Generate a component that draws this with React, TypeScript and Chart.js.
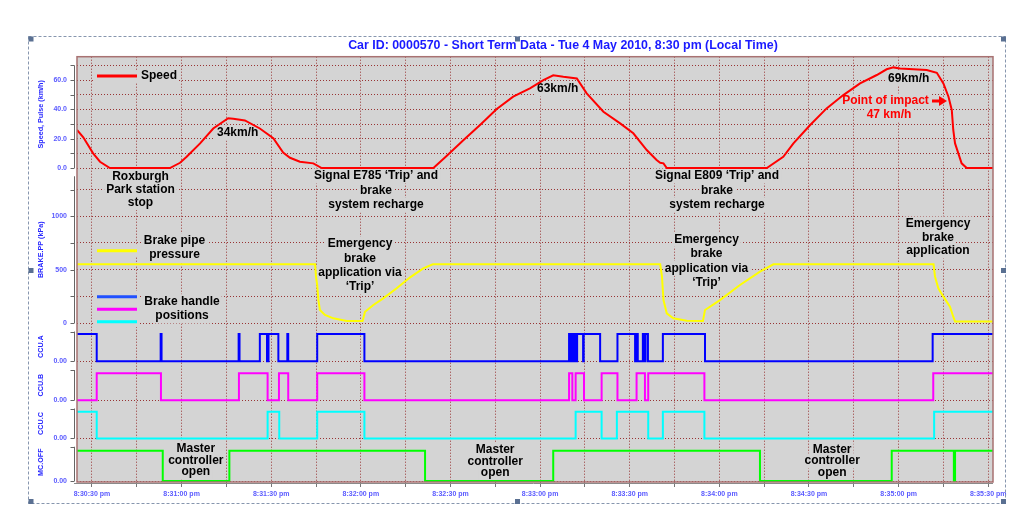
import React, { useEffect, useRef } from 'react';
import { Chart, registerables } from 'chart.js';

Chart.register(...registerables);

const FONT = '"Liberation Sans", Arial, Helvetica, sans-serif';

const chartTitle = 'Car ID: 0000570 - Short Term Data - Tue 4 May 2010, 8:30 pm (Local Time)';

// time axis: seconds after 8:30:00 pm
const timeMin = 25;
const timeMax = 331.6;
const xTickValues = [30, 45, 60, 75, 90, 105, 120, 135, 150, 165, 180, 195, 210, 225, 240, 255, 270, 285, 300, 315, 330];

// Speed (km/h)
const speedTimes = [25, 27.1, 30.4, 32.7, 36.0, 56.1, 59.5, 61.7, 66.2, 70.6, 75.6, 77.3, 81.2, 86.2, 90.7, 94.0, 96.3, 99.6, 104.1, 106.9, 144.3, 148.7, 154.3, 159.9, 165.5, 171.0, 176.6, 181.1, 184.4, 187.8, 192.3, 195.6, 201.2, 206.8, 211.2, 215.7, 219.0, 220.2, 221.3, 222.4, 255.9, 261.4, 264.8, 270.4, 275.9, 281.5, 287.1, 292.7, 296.0, 298.3, 300.5, 309.4, 312.8, 315.0, 316.7, 317.8, 318.3, 318.9, 320.0, 321.1, 322.8, 331.6];
const speedValues = [26, 21, 10, 4.3, 0, 0, 3.6, 7.7, 16.8, 27, 34, 33.7, 32.5, 27, 20.3, 10.5, 7, 4.3, 3.2, 0, 0, 8.2, 19, 29.4, 40.3, 48.7, 54.4, 60, 63.3, 62.3, 61.2, 51, 38.4, 30.5, 23.7, 12.3, 5.5, 3.6, 3.2, 0, 0, 7.7, 16.8, 29.4, 40.7, 49.8, 57.8, 63.5, 67.4, 68.7, 68, 66.9, 65, 57.8, 48.7, 39.6, 26, 16.8, 10, 3.2, 0, 0];

// Brake pipe pressure (kPa)
const brakeTimes = [25, 104.7, 105.0, 105.4, 105.8, 106.3, 108.0, 110.8, 115.3, 120.6, 121.4, 124.2, 127.5, 132.0, 136.5, 140.9, 144.1, 220.2, 220.8, 221.3, 222.4, 224.6, 229.1, 234.5, 235.2, 240.2, 246.9, 253.6, 258.1, 311.7, 312.2, 313.3, 315.0, 317.2, 318.3, 318.9, 331.6];
const brakeValues = [550, 550, 434, 356, 215, 122, 75, 44, 19, 18, 106, 169, 231, 325, 428, 512, 550, 550, 434, 215, 91, 44, 22, 18, 122, 215, 356, 481, 550, 550, 434, 325, 247, 153, 59, 14, 14];

// Brake handle positions (step signals: value holds from each time until the next)
const ccuATimes = [25, 31.6, 53.0, 53.3, 79.1, 79.4, 86.2, 88.6, 89.1, 92.4, 95.4, 95.7, 105.4, 121.2, 189.7, 190.2, 190.7, 191.0, 191.4, 191.6, 191.9, 192.1, 192.4, 194.4, 194.6, 200.1, 205.9, 211.8, 212.3, 212.7, 214.4, 214.7, 215.3, 216.1, 221.1, 235.2, 311.4, 331.6];
const ccuAValues = [1, 0, 1, 0, 1, 0, 1, 0, 1, 0, 1, 0, 1, 0, 1, 0, 1, 0, 1, 0, 1, 0, 1, 0, 1, 0, 1, 0, 1, 0, 1, 0, 1, 0, 1, 0, 1, 1];
const ccuBTimes = [25, 31.6, 53.1, 79.2, 88.8, 92.6, 95.7, 105.4, 121.2, 189.7, 190.8, 191.9, 194.7, 200.6, 205.9, 212.3, 215.1, 216.2, 235.0, 311.6, 331.6];
const ccuBValues = [0, 1, 0, 1, 0, 1, 0, 1, 0, 1, 0, 1, 0, 1, 0, 1, 0, 1, 0, 1, 1];
const ccuCTimes = [25, 31.6, 88.8, 92.7, 105.4, 121.2, 191.9, 200.6, 205.7, 216.2, 221.1, 235.0, 311.9, 331.6];
const ccuCValues = [1, 0, 1, 0, 1, 0, 1, 0, 1, 0, 1, 0, 1, 1];
// Master controller off
const mcTimes = [25, 53.7, 76.0, 141.5, 184.4, 253.6, 297.7, 318.5, 318.9, 331.6];
const mcValues = [1, 0, 1, 0, 1, 0, 1, 0, 1, 1];

const speedAxisTicks = [0, 10, 20, 30, 40, 50, 60, 70];
const speedAxisLabels = ['0.0', '', '20.0', '', '40.0', '', '60.0', ''];
const brakeAxisTicks = [0, 250, 500, 750, 1000, 1250];
const brakeAxisLabels = ['0', '', '500', '', '1000', ''];
const stepAxisTicks = [0];
const stepAxisLabels = ['0.00'];

const PLOT_BG = '#D4D4D4';
const GRID = '#983434';
const TICK_COL = '#5a5aff';
const AXIS_TITLE_COL = '#2828ff';

const panels = [
  { id: 'ySpeed', title: 'Speed, Pulse (km/h)', min: -2.7, max: 76, weight: 115.3, order: 6, ticks: speedAxisTicks, labels: speedAxisLabels, segTop: 70, segTicks: speedAxisTicks },
  { id: 'yBrake', title: 'BRAKE.PP (kPa)', min: -42, max: 1415, weight: 155.5, order: 5, ticks: brakeAxisTicks, labels: brakeAxisLabels, segTop: 1375, segTicks: brakeAxisTicks },
  { id: 'yA', title: 'CCU.A', min: -0.161, max: 1.238, weight: 38.2, order: 4, ticks: stepAxisTicks, labels: stepAxisLabels, segTop: 1.09, segTicks: [0, 1.09] },
  { id: 'yB', title: 'CCU.B', min: -0.156, max: 1.28, weight: 38.8, order: 3, ticks: stepAxisTicks, labels: stepAxisLabels, segTop: 1.12, segTicks: [0, 1.12] },
  { id: 'yC', title: 'CCU.C', min: -0.15, max: 1.27, weight: 38, order: 2, ticks: stepAxisTicks, labels: stepAxisLabels, segTop: 1.12, segTicks: [0, 1.12] },
  { id: 'yMC', title: 'MC.OFF', min: -0.03, max: 1.27, weight: 39.5, order: 1, ticks: stepAxisTicks, labels: stepAxisLabels, segTop: 1.13, segTicks: [0, 1.13] },
];

const annotations = [
  { lines: ['Roxburgh', 'Park station', 'stop'], x: 140.5, ys: [176.7, 190, 202.5], color: '#000' },
  { lines: ['34km/h'], x: 237.7, ys: [133], color: '#000' },
  { lines: ['Signal E785 \u2018Trip\u2019 and', 'brake', 'system recharge'], x: 376, ys: [176, 190.5, 205], color: '#000' },
  { lines: ['63km/h'], x: 557.7, ys: [89], color: '#000' },
  { lines: ['Signal E809 \u2018Trip\u2019 and', 'brake', 'system recharge'], x: 717, ys: [176, 190.5, 205], color: '#000' },
  { lines: ['69km/h'], x: 908.7, ys: [78.3], color: '#000' },
  { lines: ['Point of impact'], x: 885.5, ys: [101], color: '#FF0000' },
  { lines: ['47 km/h'], x: 889, ys: [114.3], color: '#FF0000' },
  { lines: ['Emergency', 'brake', 'application via', '\u2018Trip\u2019'], x: 360, ys: [244, 258.3, 272.6, 287], color: '#000' },
  { lines: ['Emergency', 'brake', 'application via', '\u2018Trip\u2019'], x: 706.5, ys: [239.3, 253.8, 268.3, 282.7], color: '#000' },
  { lines: ['Emergency', 'brake', 'application'], x: 938, ys: [224, 237.5, 251], color: '#000' },
  { lines: ['Master', 'controller', 'open'], x: 195.8, ys: [448.5, 460.2, 471.9], color: '#000' },
  { lines: ['Master', 'controller', 'open'], x: 495.2, ys: [450, 461.7, 473], color: '#000' },
  { lines: ['Master', 'controller', 'open'], x: 832.2, ys: [449.3, 461, 472.7], color: '#000' },
];

const legendItems = [
  { color: '#FF0000', y: 76 },
  { color: '#FFFF00', y: 250.7 },
  { color: '#2050FF', y: 296.7 },
  { color: '#FF00FF', y: 309.3 },
  { color: '#00FFFF', y: 321.7 },
];
const legendTexts = [
  { lines: ['Speed'], x: 141, ys: [76], align: 'left' },
  { lines: ['Brake pipe', 'pressure'], x: 174.5, ys: [240.7, 255], align: 'center' },
  { lines: ['Brake handle', 'positions'], x: 182, ys: [301.7, 316], align: 'center' },
];

function fmtTime(v: number): string {
  const m = 30 + Math.floor(v / 60);
  const s = Math.round(v % 60);
  return `8:${String(m).padStart(2, '0')}:${String(s).padStart(2, '0')} pm`;
}

function drawBoxText(ctx: CanvasRenderingContext2D, text: string, x: number, y: number, color: string, align: string) {
  ctx.font = `bold 12px ${FONT}`;
  const w = ctx.measureText(text).width;
  const left = align === 'center' ? x - w / 2 : x;
  ctx.fillStyle = PLOT_BG;
  ctx.fillRect(left - 2, y - 7.5, w + 4, 15);
  ctx.fillStyle = color;
  ctx.textAlign = align as CanvasTextAlign;
  ctx.textBaseline = 'middle';
  ctx.fillText(text, x, y);
}

const customPlugin = {
  id: 'customDecor',
  beforeDraw(chart: any) {
    const { ctx, chartArea: a } = chart;
    ctx.save();
    ctx.fillStyle = '#FFFFFF';
    ctx.fillRect(0, 0, chart.width, chart.height);
    ctx.fillStyle = PLOT_BG;
    ctx.fillRect(a.left, a.top, a.right - a.left, a.bottom - a.top);
    ctx.restore();
  },
  beforeDatasetsDraw(chart: any) {
    const { ctx } = chart;
    ctx.save();
    annotations.forEach((an) => an.lines.forEach((t, i) => drawBoxText(ctx, t, an.x, an.ys[i], an.color, 'center')));
    legendTexts.forEach((lt) => lt.lines.forEach((t, i) => drawBoxText(ctx, t, lt.x, lt.ys[i], '#000', lt.align)));
    ctx.fillStyle = PLOT_BG;
    ctx.fillRect(95, 70, 44, 12);
    ctx.fillRect(95, 245, 44, 12);
    ctx.fillRect(95, 291, 44, 36);
    legendItems.forEach((li) => {
      ctx.strokeStyle = li.color;
      ctx.lineWidth = 3;
      ctx.beginPath();
      ctx.moveTo(97, li.y);
      ctx.lineTo(137, li.y);
      ctx.stroke();
    });
    // arrow for point of impact
    ctx.fillStyle = '#FF0000';
    ctx.fillRect(932, 99.5, 8, 3);
    ctx.beginPath();
    ctx.moveTo(939, 96);
    ctx.lineTo(947, 101);
    ctx.lineTo(939, 106);
    ctx.closePath();
    ctx.fill();
    ctx.restore();
  },
  afterDraw(chart: any) {
    const { ctx, chartArea: a } = chart;
    ctx.save();
    // plot border
    ctx.strokeStyle = '#A87272';
    ctx.lineWidth = 1.5;
    ctx.strokeRect(a.left, a.top, a.right - a.left, a.bottom - a.top);
    ctx.strokeStyle = '#8a8a8a';
    ctx.lineWidth = 1;
    ctx.beginPath();
    ctx.moveTo(a.left - 3, a.bottom + 1.5);
    ctx.lineTo(a.right, a.bottom + 1.5);
    ctx.stroke();
    // y-axis segments
    ctx.strokeStyle = '#666';
    ctx.lineWidth = 1;
    const ax = Math.round(a.left - 3) + 0.5;
    panels.forEach((p) => {
      const sc = chart.scales[p.id];
      const yTop = sc.getPixelForValue(p.segTop);
      const y0 = sc.getPixelForValue(0);
      ctx.beginPath();
      ctx.moveTo(ax, yTop);
      ctx.lineTo(ax, y0);
      p.segTicks.forEach((v: number) => {
        const yy = Math.round(sc.getPixelForValue(v)) + 0.5;
        ctx.moveTo(ax - 4, yy);
        ctx.lineTo(ax, yy);
      });
      ctx.stroke();
    });
    // title
    ctx.fillStyle = '#1a1aff';
    ctx.font = `bold 12.4px ${FONT}`;
    ctx.textAlign = 'center';
    ctx.textBaseline = 'middle';
    ctx.fillText(chartTitle, 563, 46);
    // selection frame
    ctx.strokeStyle = '#8796AE';
    ctx.setLineDash([3, 2]);
    ctx.strokeRect(28.5, 36.5, 977, 467);
    ctx.setLineDash([]);
    ctx.fillStyle = '#5A7092';
    const hx = [28.5, 515, 1001];
    const hy = [36.5, 268, 499];
    hx.forEach((x) => hy.forEach((y) => {
      if (x === 515 && y === 268) return;
      ctx.fillRect(x, y, 5, 5);
    }));
    ctx.restore();
  },
};

function seriesData(times: number[], values: number[]) {
  return times.map((t, i) => ({ x: t, y: values[i] }));
}

export default function App() {
  const ref = useRef<HTMLCanvasElement | null>(null);
  useEffect(() => {
    if (!ref.current) return;
    const scales: any = {
      x: {
        type: 'linear',
        position: 'bottom',
        min: timeMin,
        max: timeMax,
        afterBuildTicks: (s: any) => { s.ticks = xTickValues.map((v) => ({ value: v })); },
        afterFit: (s: any) => { s.height = 35; },
        grid: { color: GRID, lineWidth: 1, drawTicks: true, tickLength: 5, tickColor: '#777', tickWidth: 1, tickBorderDash: [] },
        border: { display: false, dash: [1, 2] },
        ticks: {
          autoSkip: false,
          maxRotation: 0,
          padding: 3,
          color: TICK_COL,
          font: { family: FONT, size: 7, weight: 'bold' },
          callback: (v: any) => (Number(v) % 30 === 0 ? fmtTime(Number(v)) : ''),
        },
      },
    };
    panels.forEach((p) => {
      scales[p.id] = {
        type: 'linear',
        position: 'left',
        stack: 'panels',
        stackWeight: p.weight,
        weight: p.order,
        min: p.min,
        max: p.max,
        afterBuildTicks: (s: any) => { s.ticks = p.ticks.map((v) => ({ value: v })); },
        afterFit: (s: any) => { s.width = 77; },
        grid: { color: GRID, lineWidth: 1, drawTicks: false },
        border: { display: false, dash: [1, 2] },
        ticks: {
          autoSkip: false,
          padding: 10,
          color: TICK_COL,
          font: { family: FONT, size: 7, weight: 'bold' },
          callback: (_v: any, i: number) => p.labels[i] ?? '',
        },
        title: {
          display: true,
          text: p.title,
          color: AXIS_TITLE_COL,
          font: { family: FONT, size: 7.2, weight: 'bold' },
          padding: { top: 36.8, bottom: 0 },
        },
      };
    });
    const chart = new Chart(ref.current, {
      type: 'line',
      data: {
        datasets: [
          { label: 'Speed', data: seriesData(speedTimes, speedValues), yAxisID: 'ySpeed', borderColor: '#FF0000', borderWidth: 2, pointRadius: 0, tension: 0, fill: false },
          { label: 'BRAKE.PP', data: seriesData(brakeTimes, brakeValues), yAxisID: 'yBrake', borderColor: '#FFFF00', borderWidth: 2, pointRadius: 0, tension: 0, fill: false },
          { label: 'CCU.A', data: seriesData(ccuATimes, ccuAValues), yAxisID: 'yA', borderColor: '#0000FF', borderWidth: 2, pointRadius: 0, stepped: 'before', fill: false },
          { label: 'CCU.B', data: seriesData(ccuBTimes, ccuBValues), yAxisID: 'yB', borderColor: '#FF00FF', borderWidth: 2, pointRadius: 0, stepped: 'before', fill: false },
          { label: 'CCU.C', data: seriesData(ccuCTimes, ccuCValues), yAxisID: 'yC', borderColor: '#00FFFF', borderWidth: 2, pointRadius: 0, stepped: 'before', fill: false },
          { label: 'MC.OFF', data: seriesData(mcTimes, mcValues), yAxisID: 'yMC', borderColor: '#00FF00', borderWidth: 2, pointRadius: 0, stepped: 'before', fill: false },
        ],
      },
      options: {
        responsive: false,
        animation: false,
        devicePixelRatio: 1,
        events: [],
        layout: { padding: { left: 0, right: 28, top: 56.7, bottom: 0 } },
        plugins: { legend: { display: false }, tooltip: { enabled: false }, title: { display: false } },
        scales,
      },
      plugins: [customPlugin],
    } as any);
    return () => chart.destroy();
  }, []);
  return (
    <div style={{ position: 'absolute', left: 0, top: 0, width: 1021, height: 517, background: '#fff' }}>
      <canvas ref={ref} width={1021} height={517} style={{ display: 'block', width: 1021, height: 517 }} />
    </div>
  );
}
